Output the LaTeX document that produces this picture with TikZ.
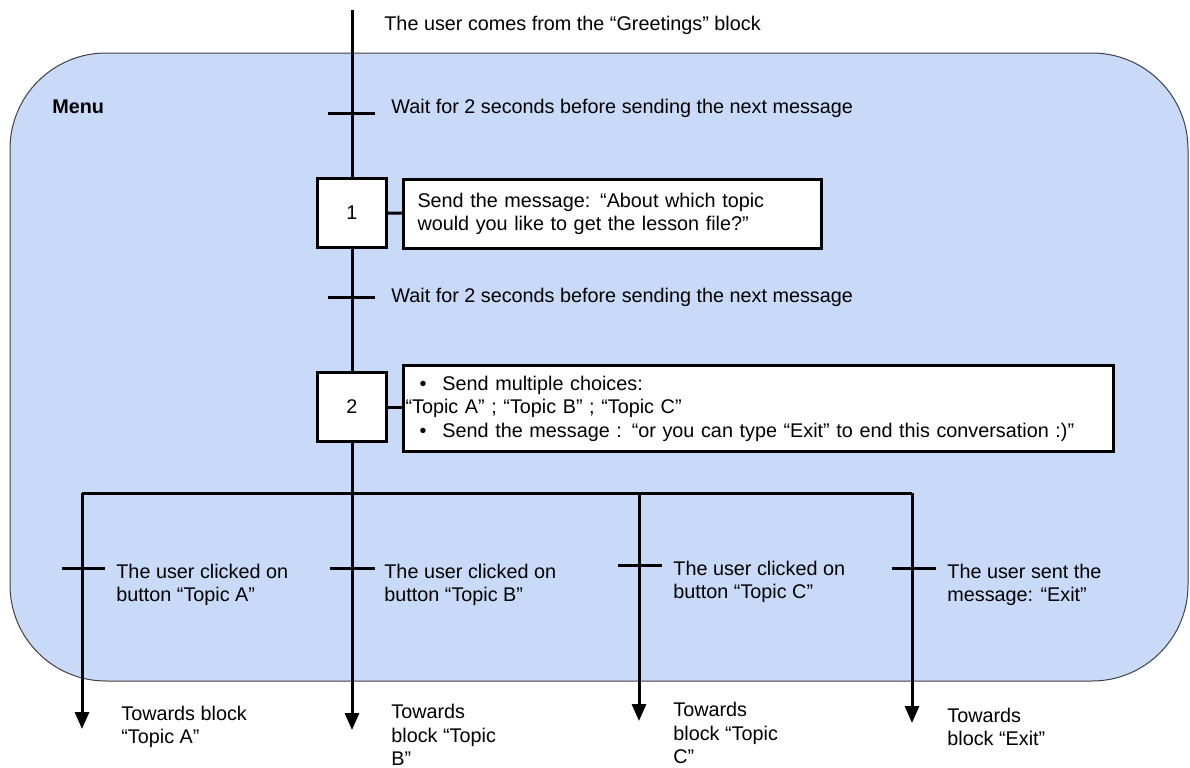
\documentclass[tikz,border=0pt]{standalone}
\usepackage{fontspec}
\setmainfont{Liberation Sans}
\usetikzlibrary{arrows.meta,positioning}
\definecolor{menublue}{HTML}{C9DAF8}

\begin{document}
\begin{tikzpicture}[x=0.5pt,y=-0.5pt,
    txt/.style={font=\fontsize{9.9pt}{11.8pt}\selectfont},
    lbl/.style={txt,anchor=west,align=left,inner sep=0pt},
    stepbox/.style={txt,draw,line width=1.5pt,fill=white,minimum width=34.5pt,minimum height=34.5pt,inner sep=0pt},
    msgbox/.style={txt,draw,line width=1.5pt,fill=white,anchor=north west,align=left},
    flow/.style={line width=1.5pt},
    go/.style={flow,-{Triangle[length=8.5pt,width=7pt]}}]
      \useasboundingbox (0,0) rectangle (1190,767);
      % the Menu block
      \draw[fill=menublue,draw=black!75,line width=0.5pt,rounded corners=48pt] (10,53) rectangle (1188,681);
      \node[lbl,font=\fontsize{9.9pt}{11.8pt}\selectfont\bfseries] (menu) at (52,107) {Menu};
      % steps
      \coordinate (in) at (352,10);
      \node[stepbox] (s1) at (352,213) {1};
      \node[stepbox] (s2) at (352,407) {2};
      \node[msgbox,inner xsep=7pt,text width=195pt,minimum height=34.5pt] (m1) at (402,178)
        {Send the message: “About which topic\\would you like to get the lesson file?”};
      \node[msgbox,inner xsep=1pt,text width=353pt,minimum height=43pt] (m2) at (402,364)
        {\hspace*{7pt}\makebox[11.5pt][l]{\textbullet}Send multiple choices:\\
         “Topic A” ; “Topic B” ; “Topic C”\\
         \hspace*{7pt}\makebox[11.5pt][l]{\textbullet}Send the message : “or you can type “Exit” to end this conversation :)”};
      \draw[flow] (s1) -- (m1);
      \draw[flow] (s2) -- (m2.west |- s2);
      \draw[flow] (in) -- (s1);
      \draw[flow] (s1) -- (s2);
      \node[lbl] (tin) at (384,25) {The user comes from the “Greetings” block};
      \draw[flow] (328,113) -- (375,113);
      \node[lbl] (w1) at (391,108) {Wait for 2 seconds before sending the next message};
      \draw[flow] (328,297) -- (375,297);
      \node[lbl] (w2) at (391,297) {Wait for 2 seconds before sending the next message};
      % choices
      \coordinate (fork) at (352,493);
      \coordinate (ja) at (82,493);
      \coordinate (jc) at (639,493);
      \coordinate (jd) at (912,493);
      \coordinate (ea) at (82,729);
      \coordinate (eb) at (352,730);
      \coordinate (ec) at (639,721);
      \coordinate (ed) at (912,723);
      \draw[flow] (s2) -- (fork);
      \draw[flow] (ja) -- (jd);
      \draw[go] (ja) -- (ea);
      \draw[go] (fork) -- (eb);
      \draw[go] (jc) -- (ec);
      \draw[go] (jd) -- (ed);
      \draw[flow] (62,568) -- (105,568);
      \draw[flow] (330,568) -- (375,568);
      \draw[flow] (618,565) -- (662,565);
      \draw[flow] (892,568) -- (936,568);
      \node[lbl] (ca) at (116,585) {The user clicked on\\button “Topic A”};
      \node[lbl] (cb) at (384,585) {The user clicked on\\button “Topic B”};
      \node[lbl] (cc) at (673,582) {The user clicked on\\button “Topic C”};
      \node[lbl] (cd) at (947,585) {The user sent the\\message: “Exit”};
      \node[lbl] (ta) at (121,727) {Towards block\\“Topic A”};
      \node[lbl] (tb) at (391,735) {Towards\\block “Topic\\B”};
      \node[lbl] (tc) at (673,733) {Towards\\block “Topic\\C”};
      \node[lbl] (td) at (947,727) {Towards\\block “Exit”};
\end{tikzpicture}
\end{document}
